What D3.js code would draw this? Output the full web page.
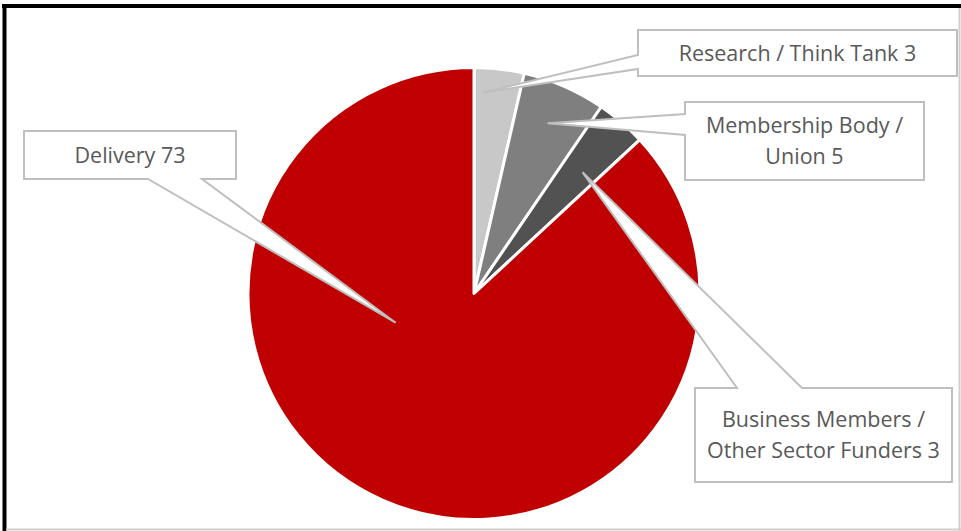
<!DOCTYPE html>
<html lang="en">
<head>
    <meta charset="UTF-8">
    <script src="https://d3js.org/d3.v7.min.js"></script>
    <title>Funding by type</title>
    <style>
        body { margin: 0; background: #fff; }
        .label { font-family: "Open Sans", sans-serif; font-size: 21.5px; fill: #595959; }
    </style>
</head>
<body>
    <svg id="chart" width="961" height="531"></svg>

    <script>
        const categories = ["Research / Think Tank", "Membership Body / Union", "Business Members / Other Sector Funders", "Delivery"];
        const values = [3, 5, 3, 73];
        const colors = ["#c8c8c8", "#7f7f7f", "#525252", "#c00000"];
        const labelLines = [
            ["Research / Think Tank 3"],
            ["Membership Body /", "Union 5"],
            ["Business Members /", "Other Sector Funders 3"],
            ["Delivery 73"]
        ];

        // callout boxes: box rect, side the pointer leaves from, pointer base span,
        // tip given as fraction across slice angle and fraction of radius
        const callouts = [
            { x: 638, y: 30, w: 319, h: 46, side: "left", b0: 55, b1: 69, tipA: 0.2, tipR: 0.89 },
            { x: 685, y: 102, w: 239, h: 78, side: "left", b0: 114, b1: 135, tipA: 0.49, tipR: 0.82 },
            { x: 695, y: 388, w: 257, h: 94, side: "top", b0: 737, b1: 802, tipA: 0.59, tipR: 0.72 },
            { x: 24, y: 131, w: 212, h: 48, side: "bottom", b0: 148, b1: 202, tipA: 0.647, tipR: 0.37 }
        ];

        const svg = d3.select("#chart");
        const cx = 474, cy = 293.5, radius = 226;

        // frame
        svg.append("line").attr("x1", 2).attr("x2", 961).attr("y1", 6).attr("y2", 6)
            .attr("stroke", "#000").attr("stroke-width", 4);
        svg.append("line").attr("x1", 4.5).attr("x2", 4.5).attr("y1", 4).attr("y2", 531)
            .attr("stroke", "#000").attr("stroke-width", 4);
        svg.append("line").attr("x1", 6).attr("x2", 961).attr("y1", 529.5).attr("y2", 529.5)
            .attr("stroke", "#d0d0d0").attr("stroke-width", 2);
        svg.append("line").attr("x1", 959.5).attr("x2", 959.5).attr("y1", 8).attr("y2", 531)
            .attr("stroke", "#d0d0d0").attr("stroke-width", 2);

        const pie = d3.pie().sort(null).value(d => d)(values);
        const arc = d3.arc().innerRadius(0).outerRadius(radius);

        const g = svg.append("g").attr("transform", `translate(${cx},${cy})`);
        g.selectAll("path")
            .data(pie)
            .enter()
            .append("path")
            .attr("d", arc)
            .attr("fill", (d, i) => colors[i])
            .attr("stroke", "#fff")
            .attr("stroke-width", 3)
            .attr("stroke-linejoin", "round");

        // callouts
        pie.forEach((d, i) => {
            const c = callouts[i];
            const a = d.startAngle + (d.endAngle - d.startAngle) * c.tipA;
            const r = radius * c.tipR;
            const tx = cx + r * Math.sin(a), ty = cy - r * Math.cos(a);
            const x0 = c.x, y0 = c.y, x1 = c.x + c.w, y1 = c.y + c.h;
            let pts;
            if (c.side === "left") {
                pts = [[x0, y0], [x1, y0], [x1, y1], [x0, y1], [x0, c.b1], [tx, ty], [x0, c.b0]];
            } else if (c.side === "top") {
                pts = [[x0, y0], [c.b0, y0], [tx, ty], [c.b1, y0], [x1, y0], [x1, y1], [x0, y1]];
            } else {
                pts = [[x0, y0], [x1, y0], [x1, y1], [c.b1, y1], [tx, ty], [c.b0, y1], [x0, y1]];
            }
            svg.append("path")
                .attr("d", d3.line()(pts) + "Z")
                .attr("fill", "#fff")
                .attr("stroke", "#bfbfbf")
                .attr("stroke-width", 2)
                .attr("stroke-linejoin", "miter");

            const lines = labelLines[i];
            const lh = 31;
            const midY = c.y + c.h / 2;
            svg.append("text")
                .attr("class", "label")
                .attr("text-anchor", "middle")
                .selectAll("tspan")
                .data(lines)
                .enter()
                .append("tspan")
                .attr("x", c.x + c.w / 2)
                .attr("y", (t, j) => midY + (j - (lines.length - 1) / 2) * lh)
                .attr("dy", "0.35em")
                .text(t => t);
        });
    </script>
</body>
</html>
